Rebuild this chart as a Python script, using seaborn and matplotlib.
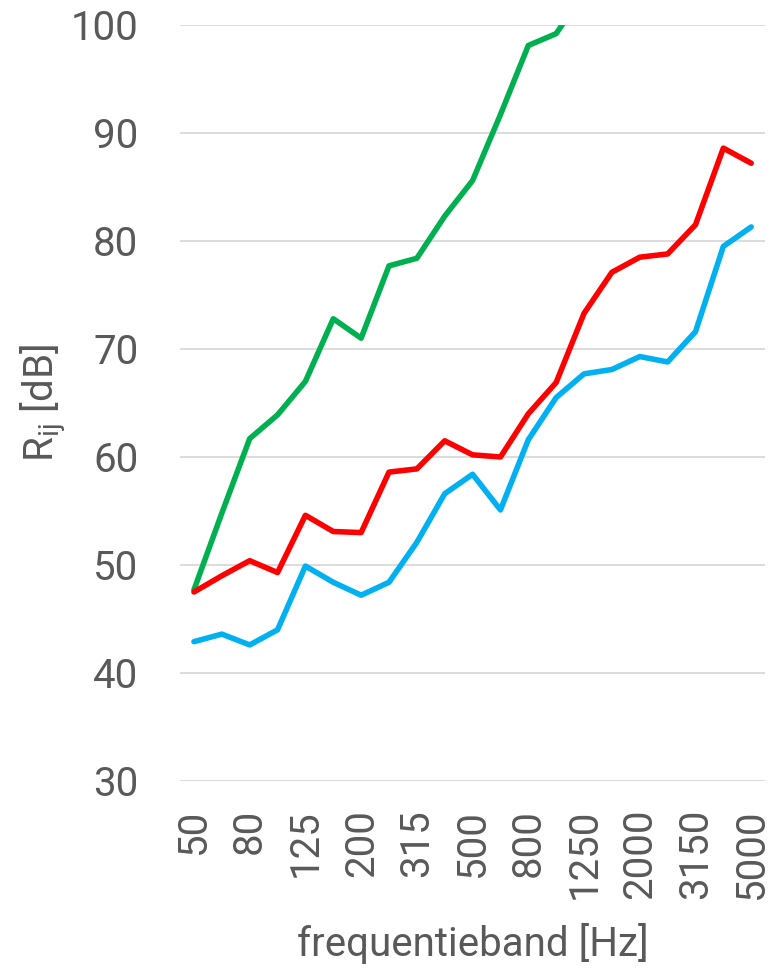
import numpy as np
import pandas as pd
import matplotlib
matplotlib.use("Agg")
import matplotlib.pyplot as plt
import seaborn as sns

bands = ["50", "63", "80", "100", "125", "160", "200", "250", "315", "400", "500",
         "630", "800", "1000", "1250", "1600", "2000", "2500", "3150", "4000", "5000"]
green = [47.7, 54.8, 61.7, 63.9, 67.0, 72.8, 71.0, 77.7, 78.4, 82.3, 85.6,
         91.7, 98.1, 99.2, 103.0, 106.0, 108.0, 110.0, 112.0, 114.0, 115.0]
red = [47.5, 49.0, 50.4, 49.3, 54.6, 53.1, 53.0, 58.6, 58.9, 61.5, 60.2,
       60.0, 64.0, 66.9, 73.3, 77.1, 78.5, 78.8, 81.5, 88.6, 87.2]
blue = [42.9, 43.6, 42.6, 44.0, 49.9, 48.4, 47.2, 48.4, 52.1, 56.6, 58.4,
        55.1, 61.6, 65.5, 67.7, 68.1, 69.3, 68.8, 71.6, 79.5, 81.3]
series_names = ["groen", "rood", "blauw"]
colors = ["#00B050", "#FF0000", "#00B0F0"]
y_ticks = [30, 40, 50, 60, 70, 80, 90, 100]

sns.set_theme(style="white")
plt.rcParams["font.family"] = ["Roboto", "DejaVu Sans"]
plt.rcParams["mathtext.fontset"] = "custom"
plt.rcParams["mathtext.rm"] = "Roboto"
plt.rcParams["mathtext.it"] = "Roboto"

pos = np.arange(len(bands))
df = pd.DataFrame({
    "pos": np.tile(pos, 3),
    "value": green + red + blue,
    "serie": np.repeat(series_names, len(bands)),
})

fig = plt.figure(figsize=(7.76, 9.76), dpi=100)
ax = fig.add_axes([0.232, 0.1998, 0.754, 0.7746])

sns.lineplot(data=df, x="pos", y="value", hue="serie", palette=colors,
             linewidth=4.0, legend=False, ax=ax, solid_capstyle="round",
             solid_joinstyle="round", zorder=3)

ax.set_xlim(-0.5, len(bands) - 0.5)
ax.set_ylim(30, 100)
ax.set_yticks(y_ticks)
ax.set_xticks(pos[::2])
ax.set_xticklabels(bands[::2], rotation=90)
ax.grid(axis="y", color="#D9D9D9", linewidth=1.3, zorder=0)
ax.grid(axis="x", visible=False)
for s in ax.spines.values():
    s.set_visible(False)

txt = "#595959"
ax.tick_params(axis="y", labelsize=29, colors=txt, length=0, pad=30)
ax.tick_params(axis="x", labelsize=29, colors=txt, length=0, pad=20)
ax.set_xlabel("frequentieband [Hz]", fontsize=29, color=txt)
ax.set_ylabel(r"R$_\mathrm{ij}$ [dB]", fontsize=29, color=txt)
ax.xaxis.set_label_coords(0.5, -0.188)
ax.yaxis.set_label_coords(-0.19, 0.5)

fig.savefig("out.png", dpi=100)
